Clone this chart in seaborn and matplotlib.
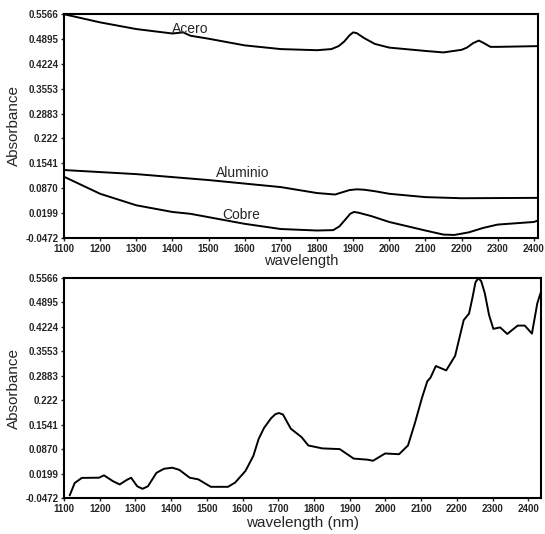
import matplotlib
matplotlib.use("Agg")
import matplotlib.pyplot as plt
import seaborn as sns
import pandas as pd

# ---------------- data ----------------
acero_wl = [1100, 1150, 1200, 1300, 1400, 1430, 1450, 1500, 1600, 1700, 1800, 1840, 1860,
            1875, 1890, 1900, 1910, 1930, 1960, 2000, 2100, 2150, 2200, 2215, 2232, 2248,
            2262, 2280, 2300, 2412]
acero_abs = [0.556, 0.545, 0.534, 0.516, 0.504, 0.507, 0.498, 0.490, 0.472, 0.462, 0.459, 0.462, 0.470,
             0.482, 0.499, 0.507, 0.505, 0.492, 0.476, 0.466, 0.457, 0.453, 0.460, 0.466, 0.478, 0.485,
             0.478, 0.468, 0.468, 0.470]

alu_wl = [1100, 1300, 1500, 1700, 1800, 1850, 1870, 1890, 1910, 1930, 1960, 2000, 2100, 2200, 2412]
alu_abs = [0.136, 0.125, 0.109, 0.090, 0.074, 0.070, 0.076, 0.082, 0.084, 0.083, 0.079, 0.072, 0.063, 0.060, 0.061]

cobre_wl = [1100, 1150, 1200, 1300, 1400, 1450, 1500, 1600, 1700, 1800, 1845, 1862, 1878, 1892,
            1902, 1915, 1950, 2000, 2100, 2150, 2180, 2220, 2260, 2300, 2400, 2412]
cobre_abs = [0.118, 0.095, 0.072, 0.041, 0.023, 0.018, 0.009, -0.009, -0.023, -0.027, -0.026, -0.016, 0.002, 0.018,
             0.023, 0.021, 0.012, -0.004, -0.027, -0.038, -0.039, -0.032, -0.020, -0.011, -0.004, 0.000]

sample_wl = [1116, 1130, 1150, 1198, 1212, 1237, 1256, 1275, 1288, 1305, 1320, 1335, 1359, 1380,
             1403, 1423, 1452, 1476, 1511, 1559, 1579, 1608, 1630, 1645, 1660, 1680, 1692, 1702,
             1713, 1735, 1765, 1784, 1823, 1872, 1911, 1950, 1965, 1999, 2038, 2063, 2082, 2102,
             2117, 2126, 2141, 2170, 2195, 2219, 2234, 2244, 2252, 2260, 2268, 2278, 2290, 2302,
             2321, 2341, 2370, 2390, 2410, 2425, 2434]
sample_abs = [-0.040, -0.006, 0.008, 0.0085, 0.015, -0.001, -0.010, 0.002, 0.0085, -0.015, -0.022,
              -0.015, 0.022, 0.033, 0.036, 0.030, 0.0085, 0.004, -0.0165, -0.0165, -0.005, 0.027,
              0.068, 0.115, 0.145, 0.172, 0.183, 0.186, 0.182, 0.143, 0.120, 0.097, 0.089, 0.087,
              0.061, 0.058, 0.055, 0.075, 0.073, 0.097, 0.157, 0.227, 0.273, 0.283, 0.315, 0.303,
              0.343, 0.441, 0.459, 0.505, 0.545, 0.556, 0.548, 0.515, 0.455, 0.417, 0.421, 0.403,
              0.426, 0.426, 0.404, 0.487, 0.515]

ytick_vals = [-0.0472, 0.0199, 0.0870, 0.1541, 0.2212, 0.2883, 0.3553, 0.4224, 0.4895, 0.5566]
ytick_labels = ["-0.0472", "0.0199", "0.0870", "0.1541", "0.222", "0.2883", "0.3553",
                "0.4224", "0.4895", "0.5566"]
xtick_vals = [1100, 1200, 1300, 1400, 1500, 1600, 1700, 1800, 1900, 2000, 2100, 2200, 2300, 2400]

labels = ["Acero", "Aluminio", "Cobre"]
label_pos_x = [1450, 1595, 1590]
label_pos_y = [0.516, 0.128, 0.014]

# ---------------- style ----------------
sns.set_style("ticks")
plt.rcParams["font.family"] = ["Liberation Sans", "DejaVu Sans"]

fig = plt.figure(figsize=(5.45, 5.34), dpi=100)
ax1 = fig.add_axes([0.1174, 0.5543, 0.870, 0.4195])
ax2 = fig.add_axes([0.1174, 0.0674, 0.875, 0.412])

top = pd.concat([
    pd.DataFrame({"wl": acero_wl, "abs": acero_abs, "s": "Acero"}),
    pd.DataFrame({"wl": alu_wl, "abs": alu_abs, "s": "Aluminio"}),
    pd.DataFrame({"wl": cobre_wl, "abs": cobre_abs, "s": "Cobre"}),
])
sns.lineplot(data=top, x="wl", y="abs", units="s", estimator=None, color="black",
             linewidth=1.4, ax=ax1, sort=False)
for t, x, y in zip(labels, label_pos_x, label_pos_y):
    ax1.text(x, y, t, fontsize=10, ha="center", va="center")

bot = pd.DataFrame({"wl": sample_wl, "abs": sample_abs})
sns.lineplot(data=bot, x="wl", y="abs", color="black", linewidth=1.4, ax=ax2, sort=False)

for ax, xmax in [(ax1, 2412), (ax2, 2435)]:
    ax.set_xlim(1100, xmax)
    ax.set_ylim(-0.0472, 0.5566)
    ax.set_yticks(ytick_vals)
    ax.set_yticklabels(ytick_labels)
    ax.set_xticks(xtick_vals)
    ax.tick_params(axis="both", labelsize=7, length=2, width=1, pad=2)
    for lab in ax.get_xticklabels() + ax.get_yticklabels():
        lab.set_fontweight("bold")
    for sp in ax.spines.values():
        sp.set_visible(True)
        sp.set_linewidth(1.5)
        sp.set_color("black")
    ax.set_ylabel("Absorbance", fontsize=11, labelpad=3)

ax1.set_xlabel("wavelength", fontsize=10.5, labelpad=0)
ax2.set_xlabel("wavelength (nm)", fontsize=11, labelpad=2)

fig.savefig("out.png", dpi=100)
